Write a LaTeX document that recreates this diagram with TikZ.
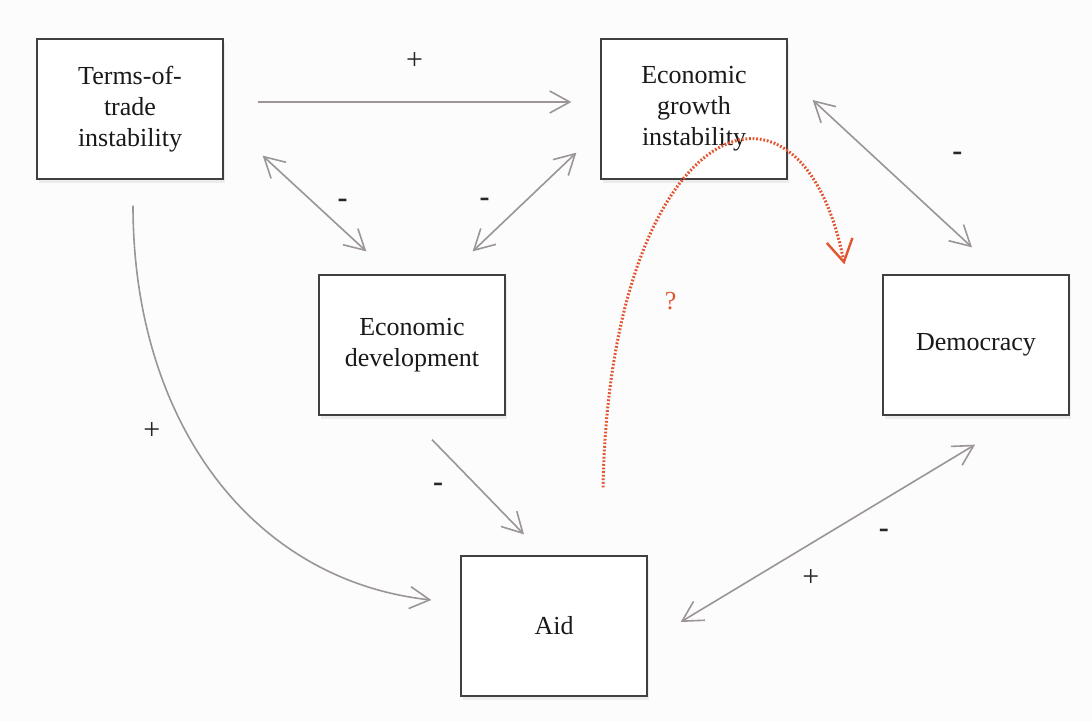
\documentclass[tikz,border=0pt]{standalone}
\usepackage{fontspec}
\setmainfont{Liberation Serif}
\usetikzlibrary{arrows.meta,shadows}

\definecolor{linkgrey}{HTML}{9B9595}
\definecolor{queryred}{HTML}{E2552E}
\definecolor{paper}{HTML}{FCFCFD}

\begin{document}
\begin{tikzpicture} [
		x=1pt, y=-1pt,
		>={Straight Barb[length=20pt,width=22pt]},
		factor/.style = { rectangle, draw=black!75, line width=1.3pt,
			fill=white, minimum width=186pt, minimum height=140pt,
			align=center, text=black!90, font=\fontsize{26}{31}\selectfont,
			drop shadow={opacity=0.12, shadow xshift=2pt, shadow yshift=-4pt} },
		link/.style   = { draw=linkgrey, line width=1.6pt, -> },
		sign/.style   = { font=\fontsize{30}{30}\selectfont, text=black!85 },
		minus/.style  = { sign, font=\bfseries\fontsize{30}{30}\selectfont },
		query/.style  = { draw=queryred, line width=3pt,
			dash pattern=on 1.8pt off 1.8pt,
			-{Straight Barb[length=22pt,width=26pt,line width=2.4pt]} },
	]
	\fill [paper] (0,0) rectangle (1092,721);
	% the five factors
	\begin{scope}
		\node [factor] (tot)    at (130,109) {Terms-of-\\trade\\instability};
		\node [factor] (growth) at (694,109) {Economic\\growth\\instability};
		\node [factor] (dev)    at (412,345) {Economic\\development};
		\node [factor] (demo)   at (976,345) {Democracy};
		\node [factor] (aid)    at (554,626) {Aid};
	\end{scope}
	% links between the factors
	\begin{scope} [every path/.style=link]
		\path ([xshift=34pt,yshift=7pt]tot.east) -- ([xshift=-29pt,yshift=7pt]growth.west)
			node [midway, yshift=41pt, sign] {+};
		\path [<->] ([xshift=39pt,yshift=24pt]tot.south east) -- ([xshift=48pt,yshift=23pt]dev.north west)
			node [midway, xshift=28pt, minus] {-};
		\path [<->] ([xshift=-33pt,yshift=23pt]dev.north east) -- ([xshift=-24pt,yshift=27pt]growth.south west)
			node [midway, xshift=-40pt, minus] {-};
		\path [<->] ([xshift=25pt,yshift=9pt]growth.east) -- ([xshift=-4pt,yshift=27pt]demo.north)
			node [midway, xshift=65pt, yshift=17pt, minus] {-};
		\path ([xshift=20pt,yshift=-24pt]dev.south) -- ([xshift=-30pt,yshift=21pt]aid.north)
			node [midway, xshift=-40pt, minus] {-};
		\path ([xshift=3pt,yshift=-26pt]tot.south) .. controls (133,420) and (250,580) .. ([xshift=-29pt,yshift=26pt]aid.west)
			node [pos=0.4, xshift=-34pt, sign] {+};
		\path [<->] ([xshift=33pt,yshift=4pt]aid.east) -- ([xshift=-1pt,yshift=-29pt]demo.south)
			node [midway, xshift=56pt, minus] {-}
			node [midway, xshift=-17pt, yshift=-45pt, sign] {+};
		\path [query] ([xshift=49pt,yshift=68pt]aid.north) .. controls (610,120) and (800,40) .. ([xshift=-38pt,yshift=10pt]demo.north west)
			node [pos=0.2, xshift=44pt, sign, text=queryred, font=\fontsize{26}{26}\selectfont] {?};
	\end{scope}
\end{tikzpicture}
\end{document}
